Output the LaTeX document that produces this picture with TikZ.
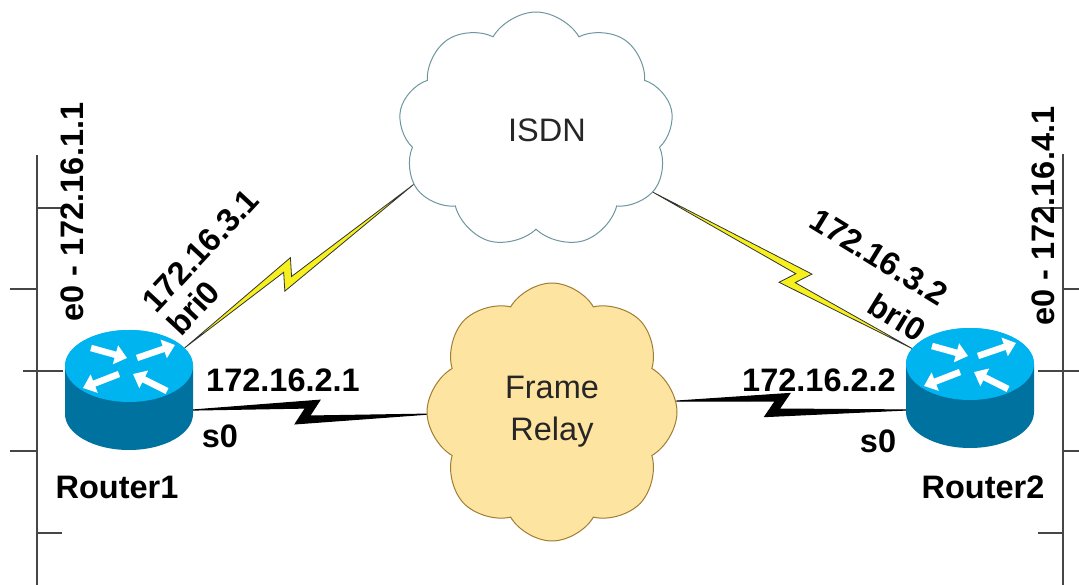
\documentclass[tikz,border=0pt]{standalone}
\usepackage{fontspec}
\setmainfont{Liberation Sans}
\usetikzlibrary{shapes.geometric,shapes.symbols,calc,arrows.meta}
\definecolor{routertop}{RGB}{0,180,240}
\definecolor{routerside}{RGB}{0,114,160}
\definecolor{isdnedge}{RGB}{110,150,160}
\definecolor{frfill}{RGB}{253,228,160}
\definecolor{fredge}{RGB}{160,125,50}
\definecolor{boltyellow}{RGB}{245,240,30}
\definecolor{ethgray}{RGB}{70,70,70}

\begin{document}
\begin{tikzpicture}[x=1pt,y=-1pt]
\tikzset{router/.style = {ellipse, minimum width=128, minimum height=72, inner sep=0, fill=routertop}}
\tikzset{cloudnet/.style = {cloud, cloud puff arc=120, cloud ignores aspect, line width=1pt, inner sep=0, font=\fontsize{32.5}{42}\selectfont, text=black!85, align=center}}
\tikzset{lbl/.style = {inner sep=0, font=\fontsize{32.5}{34}\selectfont\bfseries}}
\tikzset{rarrow/.style = {white, line width=6.5pt, -{Triangle[length=12pt,width=19pt]}}}
\tikzset{ether/.style = {ethgray, line width=1.5pt}}
\tikzset{isdnlink/.style = {fill=boltyellow, draw=black!80, line width=0.8pt}}
\tikzset{frlink/.style = {fill=black, draw=black, line width=1.2pt}}
\def\zap#1#2#3#4{%
  \coordinate (zc) at ($(#1)!#3!(#2)$);
  \filldraw[#4] (#1) -- ($(zc)!12pt!(#2)!12pt!90:(#2)$) -- ($(zc)!2pt!(#2)!-4pt!90:(#2)$) -- (#2)
    -- ($(zc)!-12pt!(#2)!-12pt!90:(#2)$) -- ($(zc)!-2pt!(#2)!4pt!90:(#2)$) -- cycle;
}
\useasboundingbox (0,0) rectangle (1079,585);
% ethernet segments
\draw[ether] (37,155) -- (37,585);
\draw[ether] (1063,154) -- (1063,585);
\foreach \y/\a/\b in {208/37/62, 289/10/37, 371/23/63, 451/10/37, 533/37/62}
  \draw[ether] (\a,\y) -- (\b,\y);
\foreach \y/\a/\b in {208/1038/1063, 289/1063/1079, 371/1038/1079, 451/1063/1079, 533/1038/1063}
  \draw[ether] (\a,\y) -- (\b,\y);
% clouds
\node[cloudnet, cloud puffs=9, draw=isdnedge, fill=white, minimum width=275, minimum height=236] (isdn) at (536,130) {\hspace*{22pt}ISDN};
\node[cloudnet, cloud puffs=8, draw=fredge, fill=frfill, minimum width=250, minimum height=258] (fr) at (552,412) {Frame\\Relay};
% routers (top face is the node, body drawn below it)
\node[router] (r1) at (129,366) {};
\node[router] (r2) at (970,364) {};
\foreach \r in {r1,r2}{
  \begin{scope}[shift={(\r.center)}]
    \fill[routerside] (-64,0) -- (-64,48) arc[start angle=180, end angle=0, x radius=64, y radius=36] -- (64,0) -- cycle;
    \fill[routertop] (0,0) ellipse[x radius=64, y radius=36];
    \draw[rarrow] (-38,-18) -- (-2,-8);
    \draw[rarrow] (8,-8) -- (46,-21);
    \draw[rarrow] (-10,8) -- (-46,22);
    \draw[rarrow] (38,25) -- (4,8);
  \end{scope}
}
\coordinate (r1s0) at ($(r1.east)+(0,44)$);
\coordinate (r2s0) at ($(r2.west)+(0,46)$);
% links
\zap{r1.18}{isdn.204}{0.45}{isdnlink}
\zap{r2.165}{isdn.332}{0.45}{isdnlink}
\zap{r1s0}{fr.181}{0.49}{frlink}
\zap{r2s0}{fr.5}{0.56}{frlink}
% labels
\node[lbl] (r1name) at (117,487) {Router1};
\node[lbl] (r2name) at (983,487) {Router2};
\node[lbl] (r1fr) at (283,380) {172.16.2.1};
\node[lbl] (r1if) at (220,436) {s0};
\node[lbl] (r2fr) at (819,380) {172.16.2.2};
\node[lbl] (r2if) at (878,441) {s0};
\node[lbl, rotate=90] (r1eth) at (72,212) {e0 - 172.16.1.1};
\node[lbl, rotate=90] (r2eth) at (1043,216) {e0 - 172.16.4.1};
\node[lbl, rotate=47, align=left] (r1bri) at (213,262) {172.16.3.1\\bri0};
\node[lbl, rotate=-31.5, align=right] (r2bri) at (868,275) {172.16.3.2\\[8pt]bri0};
\end{tikzpicture}
\end{document}
